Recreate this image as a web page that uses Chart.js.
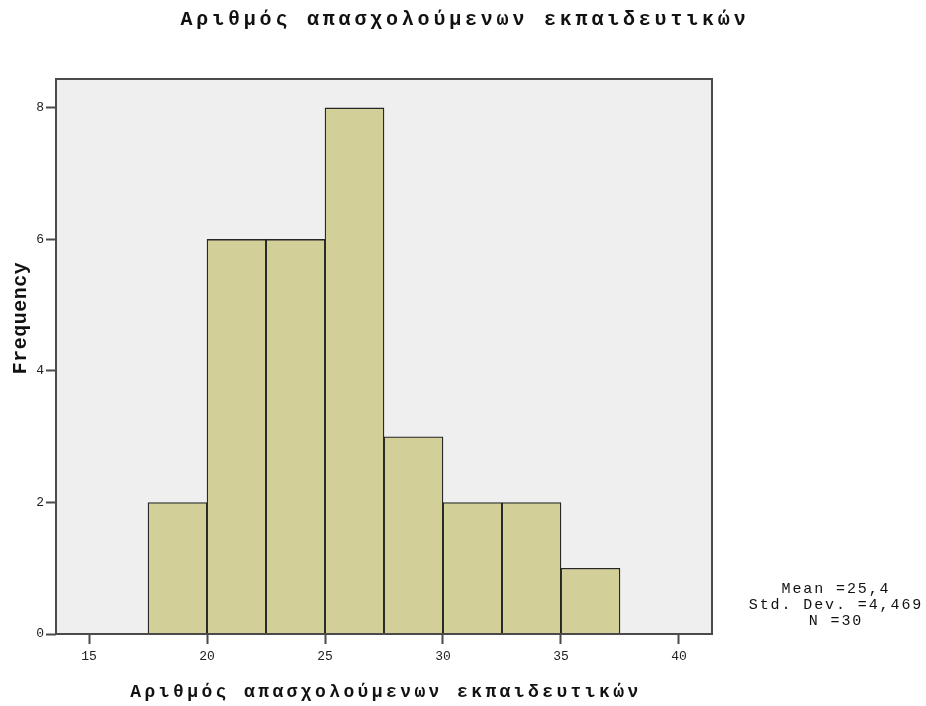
<!DOCTYPE html>
<html>
<head>
<meta charset="utf-8">
<title>Histogram</title>
<script src="https://cdn.jsdelivr.net/npm/chart.js@4.4.1/dist/chart.umd.min.js"></script>
<style>
    html, body { margin: 0; padding: 0; background: #ffffff; }
    #wrap { width: 926px; height: 706px; }
</style>
</head>
<body>
<div id="wrap"><canvas id="histChart" width="926" height="706"></canvas></div>
<script>
// Histogram data (bin edges and counts)
var binEdges = [ 17.5, 20, 22.5, 25, 27.5, 30, 32.5, 35, 37.5 ];
var binCounts = [ 2, 6, 6, 8, 3, 2, 2, 1 ];
var xTickValues = [ 15, 20, 25, 30, 35, 40 ];
var yTickValues = [ 0, 2, 4, 6, 8 ];
var chartTitle = 'Αριθμός απασχολούμενων εκπαιδευτικών';
var xAxisTitle = 'Αριθμός απασχολούμενων εκπαιδευτικών';
var yAxisTitle = 'Frequency';
var statsLines = [ 'Mean =25,4', 'Std. Dev. =4,469', 'N =30' ];

document.addEventListener( 'DOMContentLoaded', function ()
{
    var monoFont = '"Liberation Mono", "DejaVu Sans Mono", monospace';

    // bar centres from the bin edges
    var barPoints = binCounts.map( function ( count, i )
    {
        return { x: ( binEdges[ i ] + binEdges[ i + 1 ] ) / 2, y: count };
    } );

    // Plot background, frame and the spaced-out texts SPSS uses
    var spssLook = {
        id: 'spssLook',
        beforeDatasetsDraw: function ( chart )
        {
            var ctx = chart.ctx;
            var area = chart.chartArea;
            ctx.save();
            ctx.fillStyle = '#efefef';
            ctx.fillRect( area.left, area.top, area.right - area.left, area.bottom - area.top );
            ctx.restore();
        },
        afterDatasetsDraw: function ( chart )
        {
            var ctx = chart.ctx;
            var area = chart.chartArea;
            ctx.save();
            ctx.strokeStyle = '#4a4a4a';
            ctx.lineWidth = 2;
            ctx.strokeRect( area.left, area.top, area.right - area.left, area.bottom - area.top );
            ctx.restore();
        },
        afterDraw: function ( chart )
        {
            var ctx = chart.ctx;
            var area = chart.chartArea;
            ctx.save();
            ctx.fillStyle = '#111111';
            ctx.textAlign = 'center';
            ctx.textBaseline = 'middle';

            // main title
            ctx.font = 'bold 20px ' + monoFont;
            ctx.letterSpacing = '3.8px';
            ctx.fillText( chartTitle, chart.width / 2 + 2, 20 );

            // x axis title
            ctx.font = 'bold 18px ' + monoFont;
            ctx.letterSpacing = '3.4px';
            ctx.fillText( xAxisTitle, ( area.left + area.right ) / 2 + 2, 692 );

            // y axis title
            ctx.font = 'bold 20px ' + monoFont;
            ctx.letterSpacing = '0.5px';
            ctx.translate( 21, 318 );
            ctx.rotate( -Math.PI / 2 );
            ctx.fillText( yAxisTitle, 0, 0 );
            ctx.setTransform( 1, 0, 0, 1, 0, 0 );

            // summary statistics
            ctx.font = '15px ' + monoFont;
            ctx.letterSpacing = '1.9px';
            statsLines.forEach( function ( line, i )
            {
                ctx.fillText( line, 836, 589 + i * 16 );
            } );
            ctx.restore();
        }
    };

    new Chart( document.getElementById( 'histChart' ).getContext( '2d' ), {
        type: 'bar',
        data: {
            datasets: [ {
                label: yAxisTitle,
                data: barPoints,
                backgroundColor: '#d3cf98',
                borderColor: '#262626',
                borderWidth: 1.3,
                barPercentage: 1,
                categoryPercentage: 1
            } ]
        },
        options: {
            responsive: false,
            animation: false,
            layout: {
                padding: { left: 26, right: 214, top: 79, bottom: 32 }
            },
            plugins: {
                legend: { display: false },
                tooltip: { enabled: false },
                title: { display: false }
            },
            scales: {
                x: {
                    type: 'linear',
                    min: 13.6,
                    max: 41.4,
                    offset: false,
                    afterFit: function ( scale ) { scale.height = 40; },
                    afterBuildTicks: function ( scale )
                    {
                        scale.ticks = xTickValues.map( function ( v ) { return { value: v }; } );
                    },
                    grid: {
                        offset: false,
                        drawOnChartArea: false,
                        drawTicks: true,
                        tickLength: 10,
                        tickWidth: 2,
                        tickColor: '#4a4a4a'
                    },
                    border: { display: false },
                    ticks: {
                        padding: 5,
                        maxRotation: 0,
                        color: '#222222',
                        font: { family: monoFont, size: 13 }
                    }
                },
                y: {
                    min: 0,
                    max: 8.44,
                    afterFit: function ( scale ) { scale.width = 30; },
                    afterBuildTicks: function ( scale )
                    {
                        scale.ticks = yTickValues.map( function ( v ) { return { value: v }; } );
                    },
                    grid: {
                        drawOnChartArea: false,
                        drawTicks: true,
                        tickLength: 10,
                        tickWidth: 2,
                        tickColor: '#4a4a4a'
                    },
                    border: { display: false },
                    ticks: {
                        padding: 2,
                        color: '#222222',
                        font: { family: monoFont, size: 13 }
                    }
                }
            }
        },
        plugins: [ spssLook ]
    } );
} );
</script>
</body>
</html>
